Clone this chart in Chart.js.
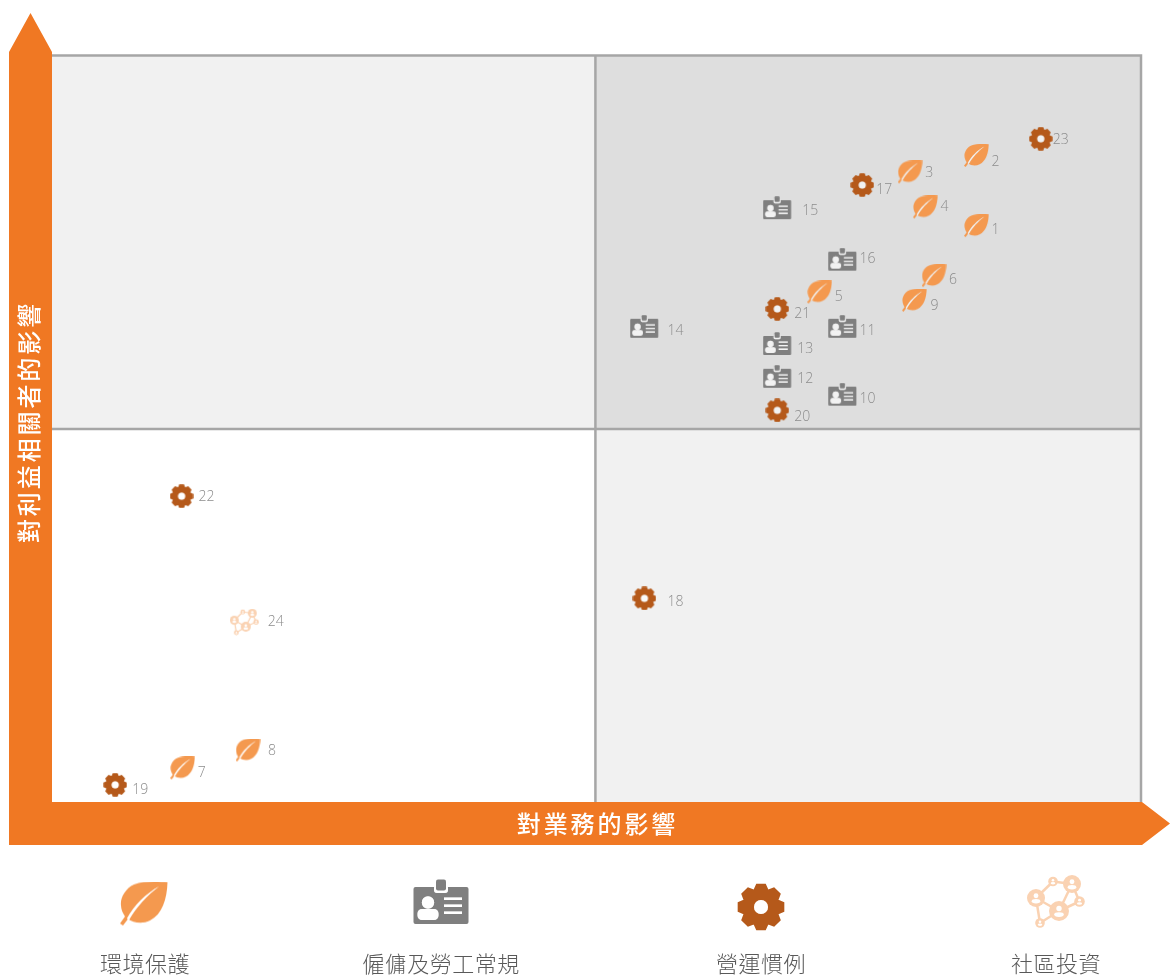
<!DOCTYPE html>
<html>
<head>
<meta charset="utf-8">
<title>重要性矩陣</title>
<script src="https://cdn.jsdelivr.net/npm/chart.js@4/dist/chart.umd.min.js"></script>
<style>
  html, body { margin: 0; padding: 0; background: #fff; }
  canvas { display: block; }
</style>
</head>
<body>
<canvas id="matrixChart" width="1170" height="975"></canvas>
<script>
// values, axes run 0-100
var categories = ['環境保護', '僱傭及勞工常規', '營運慣例', '社區投資'];
var xAxisTitle = '對業務的影響';
var yAxisTitle = '對利益相關者的影響';
var splitX = 49.9;
var splitY = 50;

var leafIds = [1, 2, 3, 4, 5, 6, 7, 8, 9];
var leafX = [84.9, 84.9, 78.8, 80.2, 70.5, 81.0, 12.0, 18.0, 79.2];
var leafY = [77.2, 86.6, 84.4, 79.7, 68.3, 70.5, 4.5, 6.9, 67.2];

var cardIds = [10, 11, 12, 13, 14, 15, 16];
var cardX = [72.6, 72.6, 66.6, 66.6, 54.4, 66.6, 72.6];
var cardY = [54.6, 63.7, 57.0, 61.4, 63.7, 79.6, 72.7];

var gearIds = [17, 18, 19, 20, 21, 22, 23];
var gearX = [74.4, 54.4, 5.8, 66.6, 66.6, 11.9, 90.8];
var gearY = [82.7, 27.3, 2.3, 52.5, 66.1, 41.0, 88.9];

var communityIds = [24];
var communityX = [17.7];
var communityY = [24.1];

// where each number sits relative to its icon, in px
var leafLabelGap = [[15, 4], [15, 6], [15, 1], [15, 0], [15, 5], [15, 4], [15, 5], [20, 0], [16, 5]];
var cardLabelGap = [[17, 4], [17, 4], [20, 2], [20, 5], [23, 4], [25, 3], [17, -1]];
var gearLabelGap = [[14, 5], [23, 4], [17, 5], [17, 7], [17, 5], [17, 1], [12, 1]];
var communityLabelGap = [[23, 0]];

var ORANGE = '#F07823';
var LEAF = '#F4994F';
var CARD = '#7F7F7F';
var GEAR = '#B5591A';
var COMMUNITY = '#FAD2B2';
var LINE = '#A6A6A6';
var INNER = 'rgba(255,255,255,0.6)';

function makeCanvas(w, h, s) {
  var c = document.createElement('canvas');
  c.width = Math.ceil(w * s);
  c.height = Math.ceil(h * s);
  var g = c.getContext('2d');
  g.scale(s, s);
  return { canvas: c, g: g };
}

// cut a shape out of the icon and leave it pale
function knockOut(g, draw) {
  g.save();
  g.globalCompositeOperation = 'destination-out';
  g.fillStyle = '#000';
  draw();
  g.globalCompositeOperation = 'source-over';
  g.fillStyle = INNER;
  draw();
  g.restore();
}

function leafIcon(s) {
  var o = makeCanvas(48, 45, s), g = o.g;
  g.fillStyle = LEAF;
  g.fill(new Path2D('M47.5,0.5 C38,0 24,-1 14,3 C5,7 0,17 1,24 C1,28 3,32 5,35 L0,42 L3,44 L8,37.5 C13,41 22,43 30,39 C42,33 47,18 47.5,0.5 Z'));
  knockOut(g, function() {
    g.fill(new Path2D('M39,5 C26,12 14,24 7,37 L9,38.5 C16,26 28,13 39,5 Z'));
  });
  return o.canvas;
}

function cardIcon(s) {
  var o = makeCanvas(56, 46, s), g = o.g;
  g.fillStyle = CARD;
  g.beginPath();
  g.roundRect(0.5, 8, 55, 37, 2);
  g.fill();
  knockOut(g, function() {
    g.beginPath();
    g.roundRect(21, 6, 14, 8, 3);
    g.arc(15, 23.5, 6.2, 0, Math.PI * 2);
    g.roundRect(4.5, 30, 21, 11, 4.5);
    g.rect(31, 18.5, 18, 2.6);
    g.rect(31, 25.5, 18, 2.6);
    g.rect(31, 32.5, 18, 2.6);
    g.fill();
  });
  g.fillStyle = CARD;
  g.beginPath();
  g.roundRect(23, 0.5, 10, 11, 2);
  g.fill();
  return o.canvas;
}

function gearIcon(s) {
  var o = makeCanvas(48, 48, s), g = o.g;
  g.translate(24, 24);
  g.fillStyle = GEAR;
  g.beginPath();
  for (var i = 0; i < 8; i++) {
    var a = i * Math.PI / 4 - Math.PI / 2;
    var pts = [[-0.42, 18.5], [-0.2, 23.8], [0.2, 23.8], [0.42, 18.5]];
    pts.forEach(function(p) {
      g.lineTo(Math.cos(a + p[0]) * p[1], Math.sin(a + p[0]) * p[1]);
    });
  }
  g.closePath();
  g.fill();
  knockOut(g, function() {
    g.beginPath();
    g.arc(0, 0, 7, 0, Math.PI * 2);
    g.fill();
  });
  return o.canvas;
}

function communityIcon(s) {
  var o = makeCanvas(60, 54, s), g = o.g;
  var nodes = [[9, 23, 9], [26, 6.5, 4.8], [45, 9, 9], [52.5, 26.5, 5.3], [32, 36, 10], [13, 48, 4.8]];
  var links = [[0, 1], [1, 2], [2, 4], [4, 5], [0, 4], [0, 5], [3, 4], [2, 3]];
  g.strokeStyle = COMMUNITY;
  g.lineWidth = 2.5;
  links.forEach(function(l) {
    g.beginPath();
    g.moveTo(nodes[l[0]][0], nodes[l[0]][1]);
    g.lineTo(nodes[l[1]][0], nodes[l[1]][1]);
    g.stroke();
  });
  nodes.forEach(function(n) {
    var r = n[2];
    g.fillStyle = COMMUNITY;
    g.beginPath();
    g.arc(n[0], n[1], r, 0, Math.PI * 2);
    g.fill();
    g.fillStyle = '#fff';
    g.beginPath();
    g.arc(n[0], n[1] - r * 0.25, r * 0.27, 0, Math.PI * 2);
    g.fill();
    g.beginPath();
    g.ellipse(n[0], n[1] + r * 0.36, r * 0.48, r * 0.24, 0, 0, Math.PI * 2);
    g.fill();
  });
  return o.canvas;
}

function toPoints(xs, ys) {
  return xs.map(function(x, i) {
    return { x: x, y: ys[i] };
  });
}

// quadrant fills and the frame go under the points
var quadrantPlugin = {
  id: 'quadrants',
  beforeDatasetsDraw: function(chart) {
    var ctx = chart.ctx, a = chart.chartArea;
    var midX = chart.scales.x.getPixelForValue(splitX);
    var midY = chart.scales.y.getPixelForValue(splitY);
    ctx.save();
    ctx.fillStyle = '#F1F1F1';
    ctx.fillRect(a.left, a.top, midX - a.left, midY - a.top);
    ctx.fillRect(midX, midY, a.right - midX, a.bottom - midY);
    ctx.fillStyle = '#DEDEDE';
    ctx.fillRect(midX, a.top, a.right - midX, midY - a.top);
    ctx.strokeStyle = LINE;
    ctx.lineWidth = 2.5;
    ctx.beginPath();
    ctx.moveTo(a.left, a.top - 0.5);
    ctx.lineTo(a.right, a.top - 0.5);
    ctx.lineTo(a.right, a.bottom);
    ctx.moveTo(midX, a.top);
    ctx.lineTo(midX, a.bottom);
    ctx.moveTo(a.left, midY);
    ctx.lineTo(a.right, midY);
    ctx.stroke();
    ctx.restore();
  }
};

// orange axis arrows with their titles
var arrowPlugin = {
  id: 'arrows',
  afterDatasetsDraw: function(chart) {
    var ctx = chart.ctx, a = chart.chartArea;
    var band = 43;
    ctx.save();
    ctx.fillStyle = ORANGE;
    ctx.beginPath();
    ctx.moveTo(a.left - band, a.bottom + band);
    ctx.lineTo(a.left - band, a.top - 4);
    ctx.lineTo(a.left - band / 2, 13);
    ctx.lineTo(a.left, a.top - 4);
    ctx.lineTo(a.left, a.bottom);
    ctx.lineTo(a.right + 1, a.bottom);
    ctx.lineTo(1170, a.bottom + band / 2);
    ctx.lineTo(a.right + 1, a.bottom + band);
    ctx.closePath();
    ctx.fill();

    ctx.fillStyle = '#fff';
    ctx.font = '500 24px "Noto Sans CJK TC", sans-serif';
    ctx.letterSpacing = '2.9px';
    ctx.textAlign = 'center';
    ctx.textBaseline = 'middle';
    ctx.fillText(xAxisTitle, chart.scales.x.getPixelForValue(50) + 1, a.bottom + band / 2);
    ctx.translate(a.left - band / 2, (a.top + a.bottom) / 2);
    ctx.rotate(-Math.PI / 2);
    ctx.fillText(yAxisTitle, 7, -2);
    ctx.restore();
  }
};

// the numbers beside each icon
var idPlugin = {
  id: 'pointIds',
  afterDatasetsDraw: function(chart) {
    var ctx = chart.ctx;
    ctx.save();
    ctx.fillStyle = '#8C8C8C';
    ctx.font = '300 14px "Open Sans", sans-serif';
    ctx.textAlign = 'left';
    ctx.textBaseline = 'middle';
    chart.data.datasets.forEach(function(ds, d) {
      chart.getDatasetMeta(d).data.forEach(function(el, i) {
        ctx.fillText(ds.ids[i], el.x + ds.labelGap[i][0], el.y + ds.labelGap[i][1]);
      });
    });
    ctx.restore();
  }
};

// icon key along the bottom
var keyPlugin = {
  id: 'iconKey',
  afterDraw: function(chart) {
    var ctx = chart.ctx;
    var icons = [leafIcon(1), cardIcon(1), gearIcon(1), communityIcon(1)];
    var iconX = [144, 441, 761, 1057];
    var iconY = [904, 902, 907, 902];
    var textX = [145, 441, 761, 1056];
    ctx.save();
    ctx.fillStyle = '#595959';
    ctx.font = '300 22px "Noto Sans CJK TC", sans-serif';
    ctx.letterSpacing = '0.5px';
    ctx.textAlign = 'center';
    ctx.textBaseline = 'middle';
    categories.forEach(function(name, i) {
      var ic = icons[i];
      ctx.drawImage(ic, iconX[i] - ic.width / 2, iconY[i] - ic.height / 2);
      ctx.fillText(name, textX[i], 964);
    });
    ctx.restore();
  }
};

new Chart(document.getElementById('matrixChart'), {
  type: 'scatter',
  data: {
    datasets: [
      { label: categories[0], ids: leafIds, labelGap: leafLabelGap, data: toPoints(leafX, leafY), pointStyle: leafIcon(0.52) },
      { label: categories[1], ids: cardIds, labelGap: cardLabelGap, data: toPoints(cardX, cardY), pointStyle: cardIcon(0.51) },
      { label: categories[2], ids: gearIds, labelGap: gearLabelGap, data: toPoints(gearX, gearY), pointStyle: gearIcon(0.5) },
      { label: categories[3], ids: communityIds, labelGap: communityLabelGap, data: toPoints(communityX, communityY), pointStyle: communityIcon(0.5) }
    ]
  },
  options: {
    responsive: false,
    animation: false,
    layout: { padding: { left: 52, right: 29, top: 56, bottom: 173 } },
    plugins: { legend: { display: false }, tooltip: { enabled: false } },
    scales: {
      x: { type: 'linear', min: 0, max: 100, display: false },
      y: { type: 'linear', min: 0, max: 100, display: false }
    }
  },
  plugins: [quadrantPlugin, arrowPlugin, idPlugin, keyPlugin]
});
</script>
</body>
</html>
